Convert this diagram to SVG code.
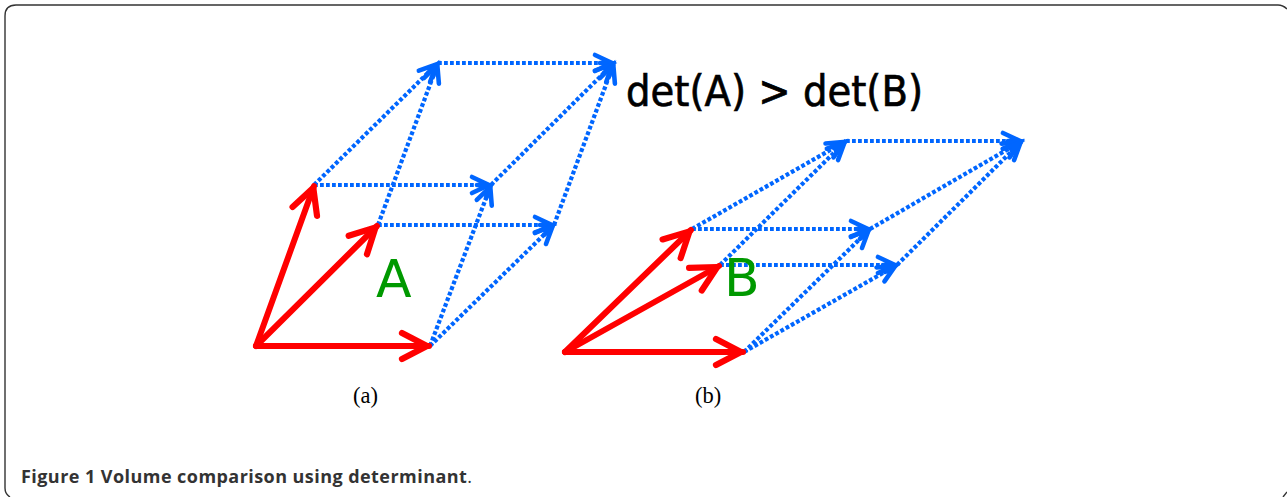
<svg xmlns="http://www.w3.org/2000/svg" width="1287" height="497" viewBox="0 0 1287 497">
<style>
.r{stroke:#ff0000;stroke-width:6;fill:none;stroke-linecap:round;stroke-linejoin:round}
.b{stroke:#0066ff;stroke-width:4.2;stroke-dasharray:3.8 2.2;fill:none}
.g{font-family:"DejaVu Sans",sans-serif;font-size:52px;fill:#009900}
.t{font-family:"Liberation Serif",serif;font-size:22.5px;fill:#000}
</style>
<defs>
<marker id="rh" markerUnits="userSpaceOnUse" markerWidth="40" markerHeight="40" refX="32" refY="20" orient="auto"><path d="M5 7L30 20L5 33" fill="none" stroke="#ff0000" stroke-width="6.2" stroke-linecap="round" stroke-linejoin="round"/></marker>
<marker id="bh" markerUnits="userSpaceOnUse" markerWidth="30" markerHeight="30" refX="24" refY="15" orient="auto"><path d="M5 7L22 15L5 23M10 15L22 15" fill="none" stroke="#0066ff" stroke-width="4.6" stroke-linecap="round"/></marker>
</defs>
<rect width="1287" height="497" fill="#fff"/>
<path id="frame" d="M1287 9Q1283 5 1278 5L16 5Q5 5 5 16L5 488Q5 494 10 497M1283 497L1287 492" fill="none" stroke="#333" stroke-width="1.4"/>
<g id="connectors">
<g id="blue-a" class="b">
<path d="M314 185L438 63" marker-end="url(#bh)"/>
<path d="M378 225L438 63" marker-end="url(#bh)"/>
<path d="M438 63L614 63" marker-end="url(#bh)"/>
<path d="M314 185L491 185" marker-end="url(#bh)"/>
<path d="M378 225L554 225" marker-end="url(#bh)"/>
<path d="M430 346L491 185" marker-end="url(#bh)"/>
<path d="M430 346L554 225" marker-end="url(#bh)"/>
<path d="M491 185L614 63" marker-end="url(#bh)"/>
<path d="M554 225L614 63" marker-end="url(#bh)"/>
</g>
<g id="blue-b" class="b">
<path d="M692 229L846 141" marker-end="url(#bh)"/>
<path d="M720 265L846 141" marker-end="url(#bh)"/>
<path d="M846 141L1022 141" marker-end="url(#bh)"/>
<path d="M692 229L870 229" marker-end="url(#bh)"/>
<path d="M720 265L897 265" marker-end="url(#bh)"/>
<path d="M744 352L870 229" marker-end="url(#bh)"/>
<path d="M744 352L897 265" marker-end="url(#bh)"/>
<path d="M870 229L1022 141" marker-end="url(#bh)"/>
<path d="M897 265L1022 141" marker-end="url(#bh)"/>
</g>
<g id="red-a" class="r">
<path d="M256 346L429 346" marker-end="url(#rh)"/>
<path d="M256 346L314 186" marker-end="url(#rh)"/>
<path d="M256 346L377 226" marker-end="url(#rh)"/>
</g>
<g id="red-b" class="r">
<path d="M565 352L743 352" marker-end="url(#rh)"/>
<path d="M565 352L691 230" marker-end="url(#rh)"/>
<path d="M565 352L719 266" marker-end="url(#rh)"/>
</g>
</g>
<g id="node-a"><text class="g" x="376" y="297">A</text></g>
<g id="node-b"><text class="g" x="724" y="296">B</text></g>
<g id="formula"><text x="626" y="106" font-family="DejaVu Sans,sans-serif" font-size="42" fill="#000" stroke="#000" stroke-width="0.7" textLength="297" lengthAdjust="spacingAndGlyphs">det(A) &gt; det(B)</text></g>
<g id="label-a"><text class="t" x="353" y="403">(a)</text></g>
<g id="label-b"><text class="t" x="695" y="403">(b)</text></g>
<g id="caption"><text x="21" y="483" font-family="Open Sans,sans-serif" font-size="18" font-weight="700" fill="#333" textLength="451">Figure 1 Volume comparison using determinant<tspan font-weight="400">.</tspan></text></g>
</svg>
